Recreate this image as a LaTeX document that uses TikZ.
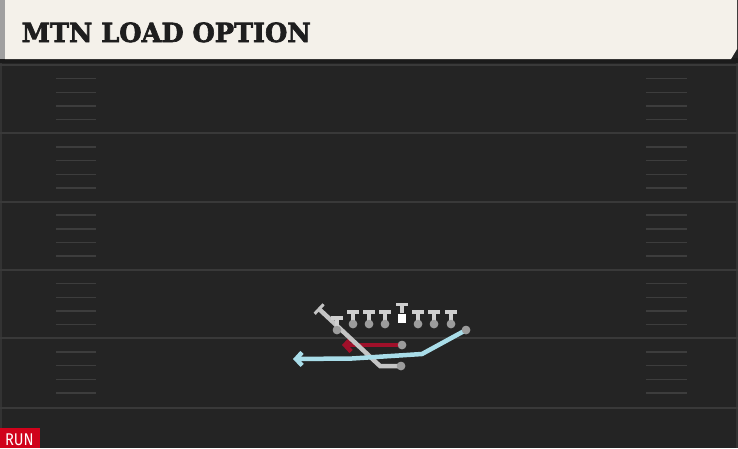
\documentclass[tikz,border=0pt]{standalone}
\usepackage{fontspec}
\usepackage{graphicx}
\usetikzlibrary{arrows.meta}
\newfontfamily\titlefont[BoldFeatures={FakeBold=2.5}]{DejaVu Serif}
\newfontfamily\tagfont{Fira Sans}
\definecolor{bgc}{HTML}{242424}
\definecolor{bandc}{HTML}{1B1B1B}
\definecolor{headc}{HTML}{F4F1EA}
\definecolor{headtxt}{HTML}{1E1E1E}
\definecolor{stripc}{HTML}{A0A0A0}
\definecolor{linec}{HTML}{393939}
\definecolor{hashc}{HTML}{3D3D3D}
\definecolor{routegray}{HTML}{C4C4C4}
\definecolor{tc}{HTML}{CFCFCF}
\definecolor{dotc}{HTML}{9C9C9C}
\definecolor{redr}{HTML}{A0102A}
\definecolor{bluer}{HTML}{A9DDE9}
\definecolor{runc}{HTML}{D0021B}
\tikzset{
  yardline/.style={draw=linec,line width=2pt},
  hashmark/.style={draw=hashc,line width=1.6pt},
  player/.style={circle,fill=dotc,inner sep=0pt,minimum size=8.5pt},
  tsym/.style={draw=tc,line width=3.3pt},
  routebase/.style={line width=4.5pt},
  grayroute/.style={routebase,draw=routegray,-{Bar[width=13pt,line width=3pt]}},
  redroute/.style={routebase,draw=redr,-{Straight Barb[length=6pt,width=13pt]}},
  blueroute/.style={routebase,draw=bluer,line join=round,-{Straight Barb[length=6pt,width=13pt]}},
}
\begin{document}
\begin{tikzpicture}[x=1pt,y=-1pt]
\useasboundingbox (0,0) rectangle (738,448);
% background
\fill[bgc] (0,0) rectangle (738,448);
\fill[bandc] (0,58) rectangle (738,63);
\fill[linec!70!bgc] (0,63) rectangle (2,448);
\fill[linec!70!bgc] (736,63) rectangle (738,448);
% header
\fill[headc] (5,0) -- (737,0) -- (737,49) -- (731,59) -- (5,59) -- cycle;
\fill[stripc] (0,0) rectangle (5,59);
\node[anchor=base west,inner sep=0pt,text=headtxt] (title) at (21.5,42)
  {\resizebox{289pt}{19.6pt}{\titlefont\bfseries MTN LOAD OPTION}};
% yard lines
\foreach \y in {65,133.3,201.6,270,338.3,408} {
  \draw[yardline] (0,\y) -- (738,\y);
}
% hash marks
\foreach \y in {65,133.3,201.6,270,338.3} {
  \foreach \k in {1,2,3,4} {
    \draw[hashmark] (56,\y+13.67*\k) -- (96,\y+13.67*\k);
    \draw[hashmark] (646,\y+13.67*\k) -- (687,\y+13.67*\k);
  }
}
% RUN tag
\fill[runc] (0,428) rectangle (40,448);
\node[anchor=base west,inner sep=0pt,text=white] (run) at (5,445)
  {\resizebox{28.5pt}{11.7pt}{\tagfont RUN}};
% players (positions)
\node[player] (te) at (337,330) {};
\node[player] (ol1) at (353,324) {};
\node[player] (ol2) at (369,324) {};
\node[player] (ol3) at (385,324) {};
\node[player] (ol5) at (418,324) {};
\node[player] (ol6) at (434,324) {};
\node[player] (ol7) at (451,324) {};
\node[fill=white,inner sep=0pt,minimum width=8pt,minimum height=9pt] (ctr) at (402,318) {};
\node[player] (rd) at (402,345) {};
\node[player] (rb) at (401,366) {};
\node[player] (bl) at (466,330) {};
% route coordinates
\coordinate (g1) at (380,366);
\coordinate (gblk) at (318,308);
\coordinate (redend) at (342,345);
\coordinate (b1) at (422,354);
\coordinate (b2) at (352,358.5);
\coordinate (bend) at (293,359);
% routes
\draw[redroute] (rd.center) -- (redend);
\draw[grayroute] (rb.center) -- (g1) -- (gblk);
\draw[blueroute] (bl.center) -- (b1) -- (b2) -- (bend);
% T symbols
\foreach \n in {te,ol1,ol2,ol3,ol5,ol6,ol7} {
  \draw[tsym] (\n.center) -- ++(0,-12);
  \draw[tsym] ([shift={(-6,-12)}]\n.center) -- ++(12,0);
}
\draw[tsym] (ctr.north) -- ++(0,-9);
\draw[tsym] ([shift={(-6,-9)}]ctr.north) -- ++(12,0);
% redraw player dots on top
\foreach \n in {te,ol1,ol2,ol3,ol5,ol6,ol7,rd,rb,bl} {
  \node[player] at (\n.center) {};
}
\end{tikzpicture}
\end{document}
